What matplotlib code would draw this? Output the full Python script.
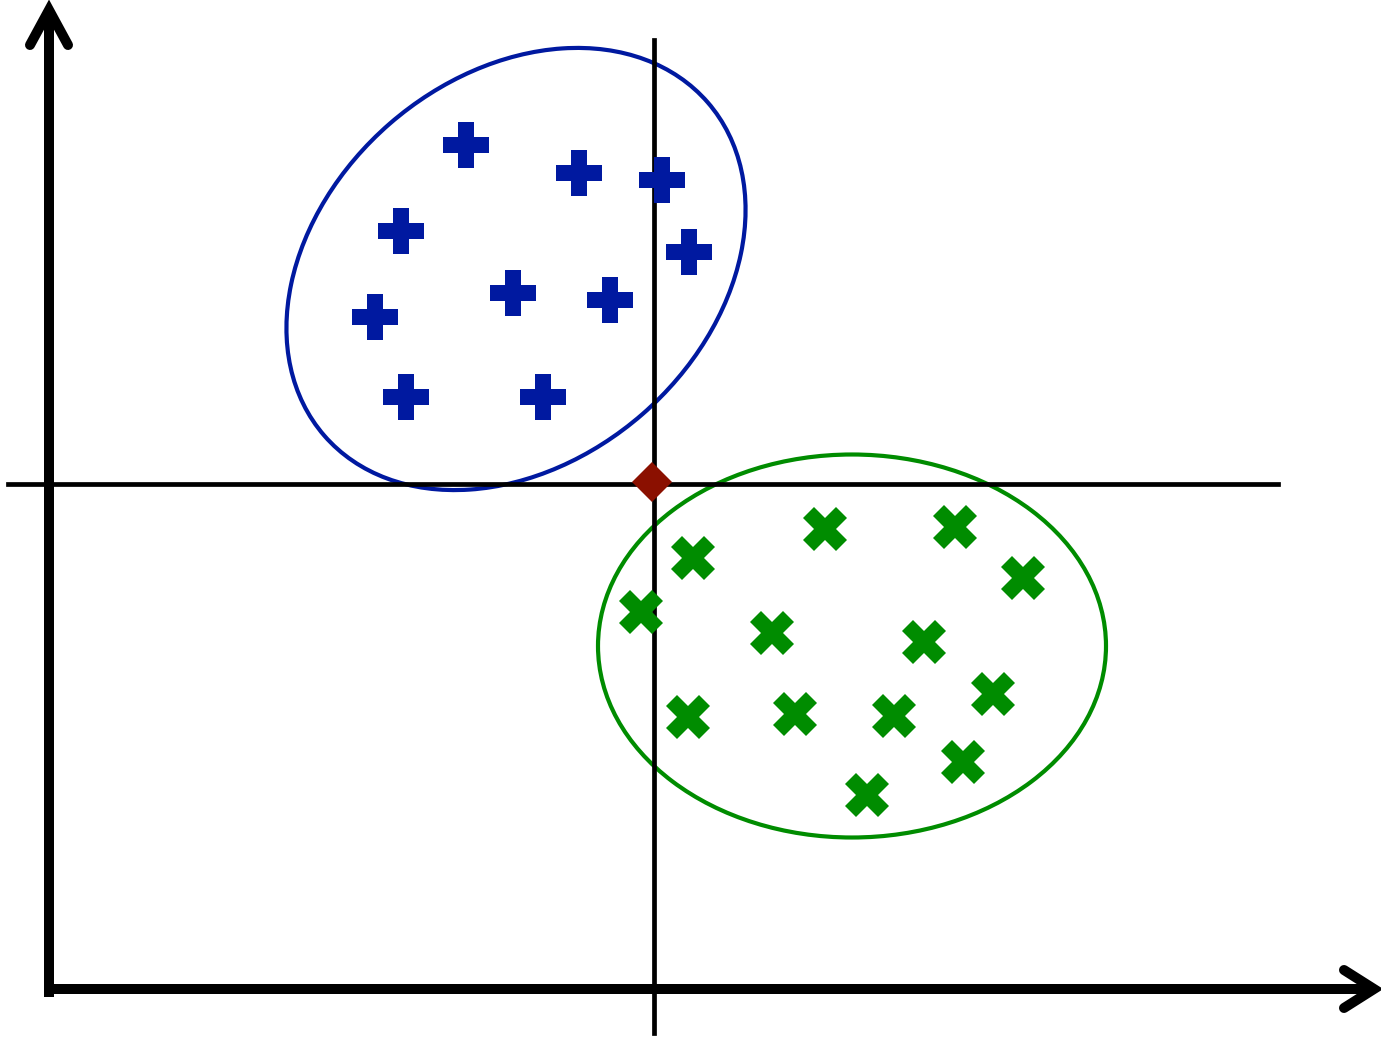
import matplotlib
matplotlib.use("Agg")
import matplotlib.pyplot as plt
from matplotlib.patches import Ellipse

# cluster points (pixel-like coordinates, y pointing down)
blue_x = [466, 579, 662, 401, 689, 513, 610, 375, 406, 543]
blue_y = [145, 173, 180, 231, 252, 293, 300, 317, 397, 397]

green_x = [693, 825, 955, 1023, 641, 772, 924, 993, 688, 795, 894, 963, 867]
green_y = [558, 529, 527, 578, 612, 633, 642, 694, 717, 714, 716, 762, 795]

# query point
query_x = [652]
query_y = [482]

# cluster outlines: center, width, height, angle
blue_ell = dict(xy=(516, 269), width=508, height=385, angle=-41)
green_ell = dict(xy=(852, 646), width=508, height=383, angle=0)

BLUE = "#0019a0"
GREEN = "#008c00"
RED = "#8b1000"

fig = plt.figure(figsize=(13.81, 10.37), dpi=100)
ax = fig.add_axes([0, 0, 1, 1])
ax.set_xlim(0, 1381)
ax.set_ylim(1037, 0)
ax.axis("off")

# main axes with arrow heads
ax.plot([49, 49], [997, 10], color="black", lw=7.2, solid_capstyle="butt")
ax.plot([45, 1374], [989, 989], color="black", lw=7.2, solid_capstyle="butt")
ax.plot([30, 49, 68], [45, 10, 45], color="black", lw=7.2,
        solid_capstyle="round", solid_joinstyle="miter")
ax.plot([1344, 1374, 1344], [970, 989, 1008], color="black", lw=7.2,
        solid_capstyle="round", solid_joinstyle="miter")

# thin cross lines through the query point
ax.plot([654, 654], [40, 1033], color="black", lw=3.4)
ax.plot([8, 1278], [484, 484], color="black", lw=3.4)

ax.add_patch(Ellipse(**blue_ell, fill=False, edgecolor=BLUE, lw=3.0))
ax.add_patch(Ellipse(**green_ell, fill=False, edgecolor=GREEN, lw=3.0))

ax.plot(blue_x, blue_y, "P", color=BLUE, markersize=33, markeredgewidth=0, linestyle="none")
ax.plot(green_x, green_y, "X", color=GREEN, markersize=32, markeredgewidth=0, linestyle="none")
ax.plot(query_x, query_y, "D", color=RED, markersize=20, markeredgewidth=0, linestyle="none")

fig.savefig("out.png", dpi=100)
